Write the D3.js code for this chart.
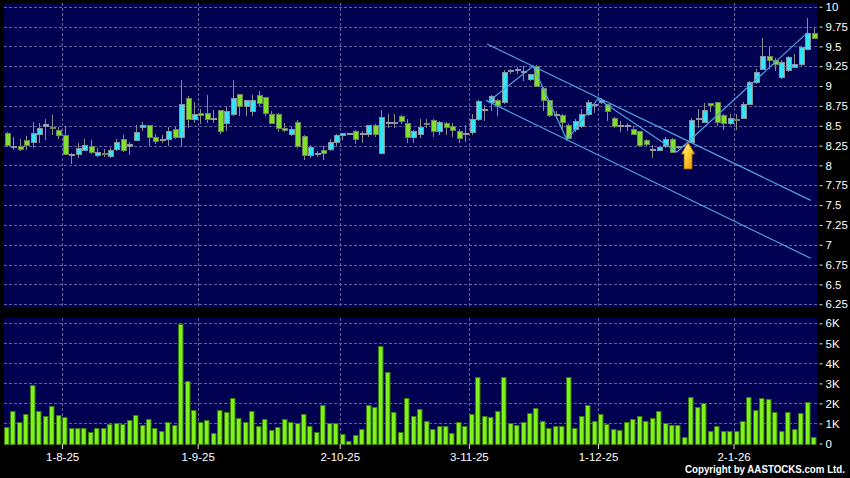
<!DOCTYPE html>
<html>
<head>
<meta charset="utf-8">
<script src="https://cdnjs.cloudflare.com/ajax/libs/d3/7.8.5/d3.min.js"></script>
<style>
  html, body { margin: 0; padding: 0; background: #000; }
  svg { display: block; }
</style>
</head>
<body>
<svg id="chart" width="850" height="478"></svg>
<script>
// daily candles, 21 Jul 2025 .. 20 Jan 2026
var opens = [8.41,8.24,8.25,8.32,8.30,8.40,8.50,8.49,8.45,8.38,
    8.13,8.14,8.19,8.25,8.13,8.16,8.12,8.21,8.33,8.25,
    8.32,8.48,8.51,8.36,8.32,8.33,8.46,8.36,8.85,8.58,
    8.66,8.66,8.59,8.70,8.54,8.65,8.90,8.75,8.69,8.89,
    8.86,8.65,8.65,8.47,8.39,8.55,8.37,8.13,8.15,8.20,
    8.21,8.30,8.38,8.40,8.44,8.40,8.39,8.51,8.16,8.54,
    8.53,8.62,8.53,8.36,8.40,8.535,8.57,8.44,8.53,8.50,
    8.43,8.40,8.42,8.58,8.70,8.80,8.83,8.80,9.19,9.20,
    9.18,9.09,9.25,8.98,8.82,8.64,8.63,8.51,8.46,8.50,
    8.65,8.77,8.80,8.77,8.60,8.50,8.50,8.46,8.43,8.32,
    8.20,8.20,8.24,8.33,8.23,8.24,8.30,8.59,8.55,8.79,
    8.80,8.64,8.54,8.59,8.60,8.78,9.05,9.21,9.38,9.33,
    9.12,9.20,9.24,9.28,9.47,9.67];
var highs = [8.42,8.36,8.33,8.37,8.55,8.53,8.58,8.64,8.49,8.50,
    8.16,8.28,8.33,8.32,8.22,8.21,8.22,8.33,8.38,8.30,
    8.51,8.55,8.51,8.40,8.38,8.49,8.49,9.08,8.88,8.80,
    8.71,8.89,8.70,8.70,8.74,9.08,8.90,8.83,8.89,8.94,
    8.86,8.68,8.66,8.54,8.49,8.57,8.38,8.26,8.18,8.24,
    8.33,8.39,8.41,8.41,8.45,8.44,8.51,8.52,8.70,8.65,
    8.65,8.63,8.58,8.45,8.58,8.58,8.58,8.56,8.55,8.53,
    8.46,8.51,8.65,8.83,8.76,8.89,8.84,9.20,9.22,9.24,
    9.25,9.15,9.26,8.99,8.83,8.68,8.65,8.52,8.58,8.71,
    8.83,8.79,8.85,8.78,8.61,8.56,8.53,8.50,8.44,8.33,
    8.26,8.25,8.36,8.35,8.25,8.27,8.60,8.71,8.79,8.79,
    8.80,8.65,8.65,8.65,8.80,9.06,9.21,9.61,9.49,9.35,
    9.33,9.38,9.40,9.50,9.86,9.75];
var lows = [8.25,8.21,8.20,8.21,8.23,8.29,8.33,8.39,8.35,8.14,
    8.03,8.11,8.19,8.16,8.12,8.12,8.11,8.19,8.18,8.15,
    8.32,8.45,8.26,8.28,8.29,8.26,8.35,8.26,8.49,8.55,
    8.54,8.55,8.55,8.41,8.45,8.64,8.63,8.64,8.63,8.76,
    8.64,8.53,8.44,8.44,8.38,8.23,8.08,8.11,8.12,8.08,
    8.19,8.26,8.33,8.39,8.28,8.29,8.37,8.37,8.16,8.49,
    8.49,8.54,8.30,8.29,8.36,8.48,8.37,8.40,8.40,8.37,
    8.30,8.31,8.40,8.57,8.57,8.70,8.64,8.79,9.16,9.16,
    9.08,9.08,9.00,8.70,8.62,8.60,8.46,8.35,8.44,8.49,
    8.64,8.67,8.79,8.57,8.49,8.44,8.45,8.40,8.25,8.26,
    8.11,8.19,8.23,8.17,8.22,8.23,8.29,8.48,8.55,8.69,
    8.51,8.46,8.52,8.46,8.60,8.77,9.04,9.21,9.23,9.20,
    9.10,9.19,9.24,9.27,9.47,9.60];
var closes = [8.26,8.25,8.21,8.26,8.41,8.47,8.52,8.47,8.38,8.15,
    8.13,8.22,8.26,8.17,8.17,8.14,8.19,8.30,8.20,8.27,
    8.42,8.51,8.36,8.31,8.32,8.43,8.36,8.78,8.58,8.65,
    8.63,8.58,8.59,8.43,8.68,8.85,8.75,8.83,8.83,8.79,
    8.66,8.54,8.47,8.45,8.46,8.25,8.13,8.23,8.15,8.16,
    8.30,8.38,8.41,8.40,8.33,8.40,8.51,8.39,8.61,8.54,
    8.55,8.56,8.36,8.43,8.49,8.53,8.43,8.55,8.49,8.45,
    8.35,8.40,8.58,8.81,8.70,8.88,8.76,9.18,9.20,9.20,
    9.18,9.15,9.00,8.83,8.64,8.64,8.55,8.35,8.56,8.65,
    8.80,8.78,8.83,8.68,8.50,8.50,8.50,8.40,8.26,8.27,
    8.20,8.23,8.33,8.17,8.25,8.26,8.57,8.60,8.70,8.76,
    8.55,8.54,8.60,8.57,8.78,9.05,9.18,9.38,9.33,9.28,
    9.30,9.37,9.28,9.49,9.67,9.61];
// volume in thousands
var volumes = [0.80,1.64,1.09,1.49,2.91,1.62,1.39,1.89,1.42,1.31,
    0.75,0.75,0.75,0.59,0.77,0.77,0.99,1.02,0.95,1.17,
    1.44,0.94,1.21,0.77,0.64,1.09,0.90,5.95,3.10,1.68,
    1.07,1.19,0.50,1.68,1.59,2.28,1.27,1.07,1.61,0.89,
    1.22,0.65,0.84,1.24,1.07,1.01,1.46,0.85,0.57,1.91,
    1.01,1.04,0.45,0.10,0.42,0.70,1.94,1.83,4.89,3.55,
    1.56,0.59,2.29,1.36,1.73,1.10,0.70,0.85,0.88,0.50,
    1.05,0.85,1.45,3.30,1.35,1.30,1.60,3.30,1.00,0.90,
    1.05,1.50,1.75,1.10,0.75,0.85,0.85,3.30,0.75,1.35,
    1.90,1.10,1.45,0.95,0.70,0.65,1.05,1.20,1.35,1.10,
    1.25,1.60,1.00,0.90,0.90,0.30,2.30,1.80,2.00,0.60,
    0.85,0.60,0.60,0.60,1.10,2.30,1.65,2.25,2.20,1.55,
    0.60,1.55,0.70,1.50,2.05,0.30];

// first bar of each month and its label
var monthStart = [9, 30, 52, 72, 92, 113];
var monthLabels = ["1-8-25", "1-9-25", "2-10-25", "3-11-25", "1-12-25", "2-1-26"];
var priceTicks = [6.25, 6.5, 6.75, 7, 7.25, 7.5, 7.75, 8, 8.25, 8.5, 8.75, 9, 9.25, 9.5, 9.75, 10];
var volTicks = [0, 1, 2, 3, 4, 5, 6];

// hand drawn trend lines, [bar index, price]
var upperChannel = [[74.3, 9.53], [124.45, 7.56]];
var lowerChannel = [[74.15, 8.82], [124.45, 6.83]];
var swingLine = [[74.47, 8.80], [81.44, 9.25], [86.7, 8.32], [91.5, 8.84], [103.74, 8.17], [124.04, 9.68]];
var arrowPoint = [105.45, 8.29];

var svg = d3.select("#chart");
var N = opens.length;

var plotLeft = 4, plotRight = 817.5;
var priceTop = 3, priceBottom = 307;
var volTop = 318, volBottom = 444;

var x = d3.scaleLinear().domain([-0.5, N - 0.5]).range([plotLeft, plotRight]);
var y = d3.scaleLinear().domain([6.25, 10]).range([304.3, 6.7]);
var yv = d3.scaleLinear().domain([0, 6]).range([443.5, 323.3]);
var bw = x(1) - x(0);

var font = "'Liberation Sans', Arial, sans-serif";
var upFill = "#33e4f4", upStroke = "#8a93a0";
var downFill = "#80e02a", downStroke = "#6a8757";
var gridColor = "#6262a2";
var lineColor = "#4fa3e3";

// panels
svg.append("rect").attr("width", 850).attr("height", 478).attr("fill", "#000");
svg.append("rect")
    .attr("x", plotLeft).attr("y", priceTop)
    .attr("width", plotRight - plotLeft).attr("height", priceBottom - priceTop)
    .attr("fill", "#000050");
svg.append("rect")
    .attr("x", plotLeft).attr("y", volTop)
    .attr("width", plotRight - plotLeft).attr("height", volBottom - volTop)
    .attr("fill", "#000050");

// grid
var grid = svg.append("g")
    .attr("stroke", gridColor)
    .attr("stroke-width", 1)
    .attr("stroke-dasharray", "3,2");

grid.selectAll(".hp").data(priceTicks).enter().append("line")
    .attr("x1", plotLeft).attr("x2", plotRight)
    .attr("y1", function(d) { return Math.round(y(d)) + 0.5; })
    .attr("y2", function(d) { return Math.round(y(d)) + 0.5; });

grid.selectAll(".hv").data(volTicks.slice(1)).enter().append("line")
    .attr("x1", plotLeft).attr("x2", plotRight)
    .attr("y1", function(d) { return Math.round(yv(d)) + 0.5; })
    .attr("y2", function(d) { return Math.round(yv(d)) + 0.5; });

monthStart.forEach(function(i) {
    var gx = Math.round(x(i - 0.5)) + 0.5;
    grid.append("line").attr("x1", gx).attr("x2", gx).attr("y1", priceTop).attr("y2", priceBottom);
    grid.append("line").attr("x1", gx).attr("x2", gx).attr("y1", volTop).attr("y2", volBottom);
});

// candles
var bars = d3.range(N).map(function(i) {
    return { i: i, o: opens[i], h: highs[i], l: lows[i], c: closes[i], v: volumes[i] };
});

var candle = svg.append("g").selectAll("g")
    .data(bars)
    .enter().append("g");

candle.append("line")
    .attr("x1", function(d) { return Math.floor(x(d.i)) + 0.5; })
    .attr("x2", function(d) { return Math.floor(x(d.i)) + 0.5; })
    .attr("y1", function(d) { return Math.round(y(d.h)); })
    .attr("y2", function(d) { return Math.round(y(d.l)) + 1; })
    .attr("stroke", "#8c8c8c")
    .attr("stroke-width", 1);

candle.each(function(d) {
    var g = d3.select(this);
    var cx = Math.floor(x(d.i)) + 0.5;
    if (Math.abs(d.o - d.c) < 0.005) {
        // doji: flat grey tick
        g.append("rect")
            .attr("x", cx - 2.5).attr("y", Math.round(y(d.c)) - 1)
            .attr("width", 6).attr("height", 2)
            .attr("fill", "#9a9a9a");
        return;
    }
    var top = Math.round(y(Math.max(d.o, d.c))) + 0.5;
    var bot = Math.round(y(Math.min(d.o, d.c))) + 0.5;
    var up = d.c > d.o;
    g.append("rect")
        .attr("x", cx - 2).attr("y", top)
        .attr("width", 5).attr("height", Math.max(1, bot - top))
        .attr("fill", up ? upFill : downFill)
        .attr("stroke", up ? upStroke : downStroke)
        .attr("stroke-width", 1);
});

// volume bars
svg.append("g").selectAll("rect")
    .data(bars)
    .enter().append("rect")
    .attr("x", function(d) { return Math.round(x(d.i) - bw / 2) + 0.5; })
    .attr("y", function(d) { return Math.round(yv(d.v)) + 0.5; })
    .attr("width", Math.round(bw) - 1.5)
    .attr("height", function(d) { return Math.max(0.5, Math.round(yv(0)) - Math.round(yv(d.v))); })
    .attr("fill", "#7ff21c")
    .attr("stroke", "#3b7d0c")
    .attr("stroke-width", 1);

// trend lines
var lineGen = d3.line()
    .x(function(d) { return x(d[0]); })
    .y(function(d) { return y(d[1]); });

[upperChannel, lowerChannel, swingLine].forEach(function(pts) {
    svg.append("path")
        .attr("d", lineGen(pts))
        .attr("fill", "none")
        .attr("stroke", lineColor)
        .attr("stroke-width", 1.2);
});

// breakout arrow
var defs = svg.append("defs");
var grad = defs.append("linearGradient")
    .attr("id", "arrowGrad")
    .attr("x1", "0").attr("y1", "0").attr("x2", "1").attr("y2", "1");
grad.append("stop").attr("offset", "0%").attr("stop-color", "#fff3a8");
grad.append("stop").attr("offset", "45%").attr("stop-color", "#ffd23a");
grad.append("stop").attr("offset", "100%").attr("stop-color", "#e89200");

svg.append("path")
    .attr("transform", "translate(" + x(arrowPoint[0]) + "," + y(arrowPoint[1]) + ")")
    .attr("d", "M0,0 L-6.7,11.6 L-4,11.6 L-4,26.5 L4,26.5 L4,11.6 L6.7,11.6 Z")
    .attr("fill", "url(#arrowGrad)")
    .attr("stroke", "#a86400")
    .attr("stroke-width", 0.8);

// axes
function styleAxis(g) {
    g.select(".domain").remove();
    g.selectAll("line").attr("stroke", "#e0e0e0");
    g.selectAll("text")
        .attr("fill", "#ffffff")
        .style("font-family", font)
        .style("font-size", "11.5px");
}

svg.append("g")
    .attr("transform", "translate(819.5,0)")
    .call(d3.axisRight(y).tickValues(priceTicks).tickSize(3).tickPadding(3)
        .tickFormat(function(d) { return String(d); }))
    .call(styleAxis);

svg.append("g")
    .attr("transform", "translate(819.5,0)")
    .call(d3.axisRight(yv).tickValues(volTicks).tickSize(3).tickPadding(3)
        .tickFormat(function(d) { return d === 0 ? "0" : d + "K"; }))
    .call(styleAxis);

svg.append("g")
    .attr("transform", "translate(0," + volBottom + ")")
    .call(d3.axisBottom(x).tickValues(monthStart.map(function(i) { return i - 0.5; }))
        .tickSize(5).tickPadding(4)
        .tickFormat(function(d, k) { return monthLabels[k]; }))
    .call(styleAxis);

svg.append("text")
    .attr("x", 845).attr("y", 472.5)
    .attr("text-anchor", "end")
    .attr("fill", "#ffffff")
    .attr("textLength", 160)
    .attr("lengthAdjust", "spacingAndGlyphs")
    .style("font-family", font)
    .style("font-size", "10px")
    .style("font-weight", "bold")
    .text("Copyright by AASTOCKS.com Ltd.");
</script>
</body>
</html>
